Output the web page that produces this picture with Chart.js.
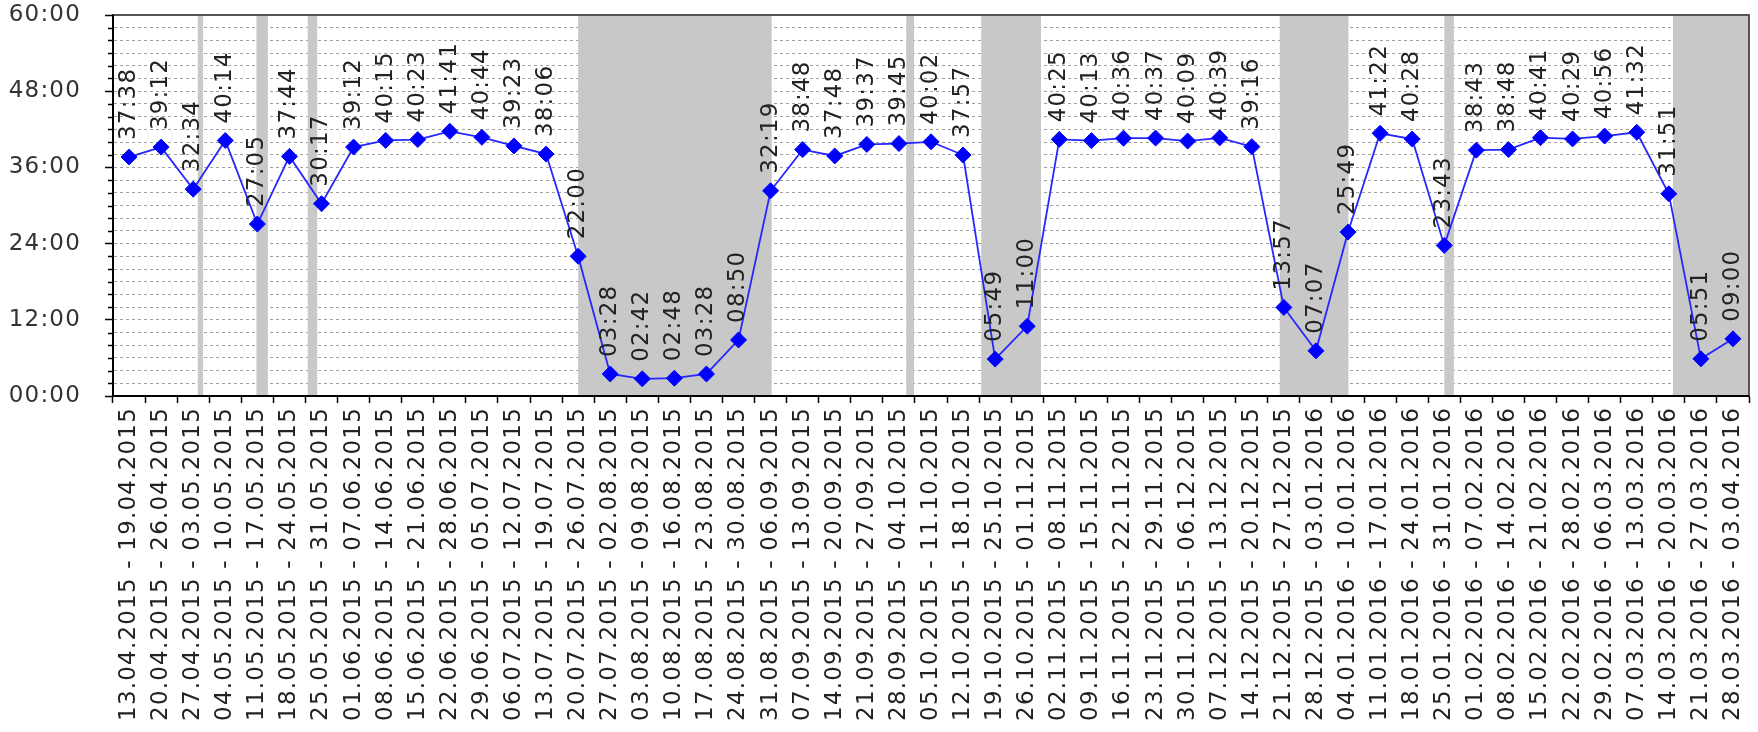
<!DOCTYPE html>
<html>
<head>
    <title>Weekly hours</title>
    <style type="text/css">
        body { margin: 0; background: #ffffff; }
        #wrap { width: 1758px; height: 732px; }
    </style>
    <script src="https://cdn.jsdelivr.net/npm/chart.js@4.4.1/dist/chart.umd.min.js"></script>
</head>
<body>
    <div id="wrap"><canvas id="Chart"></canvas></div>
    <script>
        // weeks on the x axis
        var weeks = [
            '13.04.2015 - 19.04.2015', '20.04.2015 - 26.04.2015', '27.04.2015 - 03.05.2015',
            '04.05.2015 - 10.05.2015', '11.05.2015 - 17.05.2015', '18.05.2015 - 24.05.2015',
            '25.05.2015 - 31.05.2015', '01.06.2015 - 07.06.2015', '08.06.2015 - 14.06.2015',
            '15.06.2015 - 21.06.2015', '22.06.2015 - 28.06.2015', '29.06.2015 - 05.07.2015',
            '06.07.2015 - 12.07.2015', '13.07.2015 - 19.07.2015', '20.07.2015 - 26.07.2015',
            '27.07.2015 - 02.08.2015', '03.08.2015 - 09.08.2015', '10.08.2015 - 16.08.2015',
            '17.08.2015 - 23.08.2015', '24.08.2015 - 30.08.2015', '31.08.2015 - 06.09.2015',
            '07.09.2015 - 13.09.2015', '14.09.2015 - 20.09.2015', '21.09.2015 - 27.09.2015',
            '28.09.2015 - 04.10.2015', '05.10.2015 - 11.10.2015', '12.10.2015 - 18.10.2015',
            '19.10.2015 - 25.10.2015', '26.10.2015 - 01.11.2015', '02.11.2015 - 08.11.2015',
            '09.11.2015 - 15.11.2015', '16.11.2015 - 22.11.2015', '23.11.2015 - 29.11.2015',
            '30.11.2015 - 06.12.2015', '07.12.2015 - 13.12.2015', '14.12.2015 - 20.12.2015',
            '21.12.2015 - 27.12.2015', '28.12.2015 - 03.01.2016', '04.01.2016 - 10.01.2016',
            '11.01.2016 - 17.01.2016', '18.01.2016 - 24.01.2016', '25.01.2016 - 31.01.2016',
            '01.02.2016 - 07.02.2016', '08.02.2016 - 14.02.2016', '15.02.2016 - 21.02.2016',
            '22.02.2016 - 28.02.2016', '29.02.2016 - 06.03.2016', '07.03.2016 - 13.03.2016',
            '14.03.2016 - 20.03.2016', '21.03.2016 - 27.03.2016', '28.03.2016 - 03.04.2016'
        ];

        // worked time per week (hh:mm)
        var worked = [
            '37:38', '39:12', '32:34', '40:14', '27:05', '37:44', '30:17', '39:12', '40:15', '40:23',
            '41:41', '40:44', '39:23', '38:06', '22:00', '03:28', '02:42', '02:48', '03:28', '08:50',
            '32:19', '38:48', '37:48', '39:37', '39:45', '40:02', '37:57', '05:49', '11:00', '40:25',
            '40:13', '40:36', '40:37', '40:09', '40:39', '39:16', '13:57', '07:07', '25:49', '41:22',
            '40:28', '23:43', '38:43', '38:48', '40:41', '40:29', '40:56', '41:32', '31:51', '05:51',
            '09:00'
        ];

        // grey periods (days off), in days counted from 13.04.2015
        var offStart = [18.5, 31.3, 42.5, 101.5, 173.1, 189.45, 254.6, 290.5, 340.4];
        var offEnd   = [19.66, 33.8, 44.56, 143.74, 174.8, 202.5, 269.6, 292.6, 357];

        function toHours(s) {
            var p = s.split(':');
            return parseInt(p[0], 10) + parseInt(p[1], 10) / 60;
        }
        function pad(n) { return (n < 10 ? '0' : '') + n; }

        var FONT = 'DejaVu Sans';
        var SPACING = '1.2px';

        var extras = {
            id: 'extras',
            beforeUpdate: function(chart) { chart.ctx.letterSpacing = SPACING; },
            beforeDraw: function(chart) { chart.ctx.letterSpacing = SPACING; },
            beforeDatasetsDraw: function(chart) {
                var ctx = chart.ctx, area = chart.chartArea, xs = chart.scales.x;
                ctx.save();
                ctx.fillStyle = '#c8c8c8';
                for (var i = 0; i < offStart.length; i++) {
                    var x1 = Math.max(area.left, xs.getPixelForValue(offStart[i] / 7 - 0.5));
                    var x2 = Math.min(area.right, xs.getPixelForValue(offEnd[i] / 7 - 0.5));
                    ctx.fillRect(x1, area.top, x2 - x1, area.bottom - area.top);
                }
                ctx.restore();
            },
            afterDatasetsDraw: function(chart) {
                var ctx = chart.ctx, area = chart.chartArea, ys = chart.scales.y;
                ctx.save();
                // frame
                ctx.strokeStyle = '#555555';
                ctx.lineWidth = 2;
                ctx.beginPath();
                ctx.moveTo(area.left, area.top);
                ctx.lineTo(area.right, area.top);
                ctx.lineTo(area.right, area.bottom);
                ctx.stroke();
                ctx.strokeStyle = '#000000';
                ctx.beginPath();
                ctx.moveTo(area.left, area.top);
                ctx.lineTo(area.left, area.bottom);
                ctx.lineTo(area.right, area.bottom);
                ctx.stroke();
                // minor ticks on y
                ctx.lineWidth = 1.5;
                ctx.beginPath();
                for (var v = 2; v < 60; v += 2) {
                    if (v % 12 === 0) continue;
                    var py = Math.round(ys.getPixelForValue(v)) + 0.5;
                    ctx.moveTo(area.left - 5, py);
                    ctx.lineTo(area.left, py);
                }
                ctx.stroke();
                // value labels
                var meta = chart.getDatasetMeta(0);
                ctx.fillStyle = '#222222';
                ctx.font = '23px "' + FONT + '"';
                ctx.textAlign = 'left';
                ctx.textBaseline = 'middle';
                meta.data.forEach(function(pt, i) {
                    ctx.save();
                    ctx.translate(pt.x, pt.y - 17);
                    ctx.rotate(-Math.PI / 2);
                    ctx.fillText(worked[i], 0, 0);
                    ctx.restore();
                });
                ctx.restore();
            }
        };

        var ctx = document.getElementById('Chart').getContext('2d');
        var chart = new Chart(ctx, {
            type: 'line',
            data: {
                labels: weeks,
                datasets: [{
                    data: worked.map(toHours),
                    borderColor: '#2626ff',
                    borderWidth: 1.8,
                    pointStyle: 'rectRot',
                    pointRadius: 8,
                    pointBorderWidth: 1,
                    pointBackgroundColor: '#0000ff',
                    pointBorderColor: '#0000ff',
                    tension: 0
                }]
            },
            options: {
                responsive: true,
                maintainAspectRatio: false,
                animation: false,
                layout: { padding: { top: 15, right: 5, left: 0, bottom: 0 } },
                plugins: { legend: { display: false }, tooltip: { enabled: false } },
                scales: {
                    x: {
                        offset: true,
                        grid: {
                            offset: true,
                            drawOnChartArea: false,
                            tickLength: 7,
                            tickColor: '#000000',
                            tickWidth: 1.5
                        },
                        border: { color: '#000000', width: 2 },
                        ticks: {
                            autoSkip: false,
                            maxRotation: 90,
                            minRotation: 90,
                            padding: 4,
                            color: '#222222',
                            font: { family: FONT, size: 23 }
                        },
                        afterFit: function(scale) {
                            scale.height = 336;
                            scale.paddingLeft = 0;
                            scale.paddingRight = 0;
                        }
                    },
                    y: {
                        min: 0,
                        max: 60,
                        grid: {
                            color: function(c) {
                                var v = c.tick ? c.tick.value : 0;
                                return (v === 0 || v === 60) ? 'rgba(0,0,0,0)' : '#a0a0a0';
                            },
                            lineWidth: 1,
                            tickLength: 8,
                            tickWidth: 1.5,
                            tickColor: function(c) {
                                return c.tick && c.tick.value % 12 === 0 ? '#000000' : 'rgba(0,0,0,0)';
                            }
                        },
                        border: { color: '#000000', width: 2, dash: [3, 3] },
                        ticks: {
                            stepSize: 2,
                            autoSkip: false,
                            padding: 24,
                            color: '#333333',
                            font: { family: FONT, size: 23 },
                            callback: function(v) { return v % 12 === 0 ? pad(v) + ':00' : ''; }
                        },
                        afterFit: function(scale) {
                            scale.width = 113;
                            scale.paddingTop = 0;
                            scale.paddingBottom = 0;
                        }
                    }
                }
            },
            plugins: [extras]
        });
    </script>
</body>
</html>
